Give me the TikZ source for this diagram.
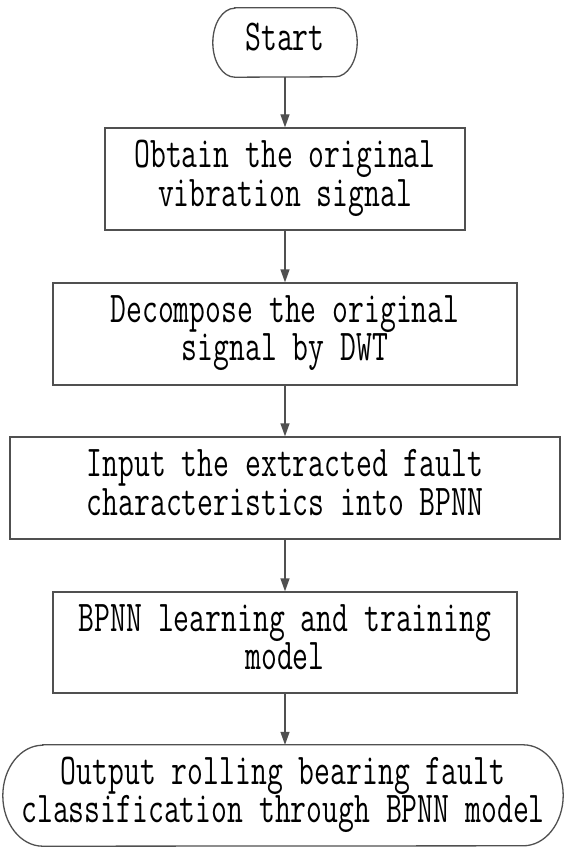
\documentclass[tikz,border=0pt]{standalone}
\usepackage{graphicx}
\usetikzlibrary{arrows.meta}
\definecolor{linegray}{RGB}{80,80,80}
\newcommand\boxtext[1]{\scalebox{0.70}[1]{\begin{tabular}{@{}c@{}}#1\end{tabular}}}
\begin{document}
\begin{tikzpicture}[x=1pt,y=-1pt,
  txt/.style={font=\ttfamily\fontsize{44}{38}\selectfont, align=center, inner sep=0pt, text=black},
  stepbox/.style={txt, draw=linegray, line width=1.3pt, rectangle},
  termbox/.style={txt, rectangle},
  outline/.style={draw=linegray, line width=1.3pt},
  conn/.style={draw=linegray, line width=1.3pt, -{Triangle[length=13pt,width=9pt]}}]
\useasboundingbox (0,0) rectangle (565,848);
\fill[white] (0,0) rectangle (565,848);

\node[termbox, minimum width=144pt, minimum height=69pt] (start) at (285,42.5) {\boxtext{Start}};
\draw[outline] ([xshift=22pt]start.north west) -- ([xshift=-22pt]start.north east)
  arc[start angle=90, end angle=-90, x radius=22pt, y radius=34.5pt]
  -- ([xshift=22pt]start.south west)
  arc[start angle=270, end angle=90, x radius=22pt, y radius=34.5pt] -- cycle;

\node[stepbox, minimum width=360pt, minimum height=102pt] (b1) at (285,179) {\boxtext{Obtain the original\\vibration signal}};
\node[stepbox, minimum width=464pt, minimum height=102pt] (b2) at (285,334) {\boxtext{Decompose the original\\signal by DWT}};
\node[stepbox, minimum width=550pt, minimum height=102pt] (b3) at (285,488) {\boxtext{Input the extracted fault\\characteristics into BPNN}};
\node[stepbox, minimum width=464pt, minimum height=101pt] (b4) at (285,642.5) {\boxtext{BPNN learning and training\\model}};

\node[termbox, minimum width=560pt, minimum height=101pt] (end) at (283,795.5) {\boxtext{Output rolling bearing fault\\classification through BPNN model}};
\draw[outline] ([xshift=40pt]end.north west) -- ([xshift=-40pt]end.north east)
  arc[start angle=90, end angle=-90, x radius=40pt, y radius=50.5pt]
  -- ([xshift=40pt]end.south west)
  arc[start angle=270, end angle=90, x radius=40pt, y radius=50.5pt] -- cycle;

\draw[conn] (start.south) -- (b1.north);
\draw[conn] (b1) -- (b2);
\draw[conn] (b2) -- (b3);
\draw[conn] (b3) -- (b4);
\draw[conn] (b4.south) -- (b4.south |- end.north);
\end{tikzpicture}
\end{document}
